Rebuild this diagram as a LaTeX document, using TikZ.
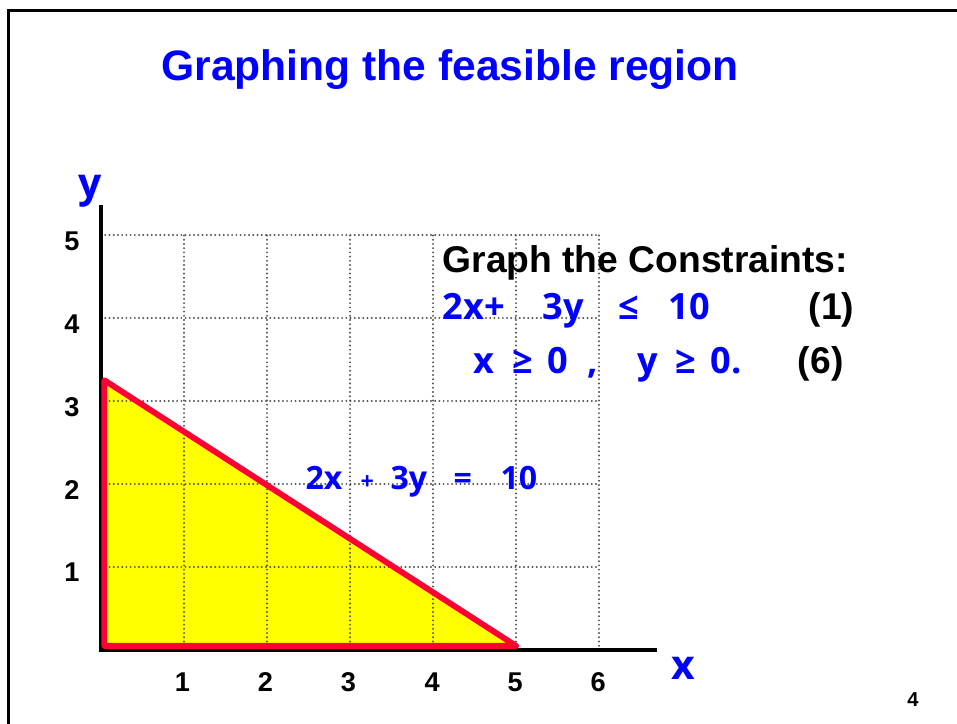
\documentclass[tikz,border=0pt]{standalone}
\usepackage{fontspec}
\setmainfont{Liberation Sans}
\newfontfamily\comicfont{Open Sans}
\definecolor{titleblue}{RGB}{0,0,255}
\definecolor{linered}{RGB}{255,0,51}
\definecolor{regionyellow}{RGB}{255,255,0}
\definecolor{gridgray}{RGB}{85,85,85}
\tikzset{
  ticklabel/.style={font=\fontsize{9.3}{10}\selectfont\bfseries},
  mathblue/.style={anchor=base west, text=titleblue, inner sep=0pt, font=\comicfont\bfseries\fontsize{12.4}{14}\selectfont},
  linelabel/.style={anchor=base west, text=titleblue, inner sep=0pt, font=\comicfont\bfseries\fontsize{11}{13}\selectfont},
  gridline/.style={gridgray, line width=0.75pt, line cap=round, dash pattern=on 0pt off 1.45pt},
  axis/.style={black, line width=1.4pt},
  boundary/.style={linered, line width=2pt, line join=round}
}
\begin{document}
\begin{tikzpicture}
    \useasboundingbox (-1.217,-0.880) rectangle (10.313,7.831);
    \draw[line width=1pt] (-1.12,-0.95) -- (-1.12,7.71) -- (10.4,7.71);

    \node[anchor=base west, inner sep=0pt, text=titleblue, font=\fontsize{14.6}{16}\selectfont\bfseries] (title) at (0.72,6.867) {Graphing the feasible region};

    \coordinate (O) at (0,0);
    \coordinate (Ytop) at (0,5.36);
    \coordinate (Xend) at (6.70,0);
    \coordinate (A) at (0.04,0.05);
    \coordinate (B) at (0.04,3.25);
    \coordinate (C) at (5.0,0.05);

    \fill[regionyellow] (A) -- (B) -- (C) -- cycle;
    \draw[gridline] (O) grid (6,5);
    \draw[axis] (Ytop) -- (O) -- (Xend);
    \draw[boundary] (A) -- (B) -- (C) -- cycle;

    \node[ticklabel] (x1) at (0.98,-0.39) {1};
    \node[ticklabel] (x2) at (1.98,-0.39) {2};
    \node[ticklabel] (x3) at (2.98,-0.39) {3};
    \node[ticklabel] (x4) at (3.99,-0.39) {4};
    \node[ticklabel] (x5) at (4.99,-0.39) {5};
    \node[ticklabel] (x6) at (5.99,-0.39) {6};
    \node[ticklabel] (y1) at (-0.35,0.94) {1};
    \node[ticklabel] (y2) at (-0.35,1.93) {2};
    \node[ticklabel] (y3) at (-0.35,2.93) {3};
    \node[ticklabel] (y4) at (-0.35,3.92) {4};
    \node[ticklabel] (y5) at (-0.35,4.92) {5};

    \node[anchor=base, text=titleblue, font=\comicfont\bfseries\fontsize{14}{16}\selectfont] (ylab) at (-0.13,5.45) {y};
    \node[anchor=base, text=titleblue, font=\comicfont\bfseries\fontsize{14}{16}\selectfont] (xlab) at (7.02,-0.361) {x};

    % constraints
    \node[anchor=base west, inner sep=0pt, font=\fontsize{12.76}{14}\selectfont\bfseries] (head) at (4.108,4.554) {Graph the Constraints:};
    \node[mathblue] (c1a) at (4.108,3.976) {2x+};
    \node[mathblue] (c1b) at (5.313,3.976) {3y};
    \node[mathblue] (c1c) at (6.229,3.976) {≤};
    \node[mathblue] (c1d) at (6.831,3.976) {10};
    \node[anchor=base west, inner sep=0pt, font=\fontsize{12.76}{14}\selectfont\bfseries] (n1) at (8.52,3.976) {(1)};
    \node[mathblue] (c2a) at (4.482,3.337) {x};
    \node[mathblue] (c2b) at (4.952,3.337) {≥};
    \node[mathblue] (c2c) at (5.373,3.337) {0};
    \node[mathblue] (c2d) at (5.855,3.337) {,};
    \node[mathblue] (c2e) at (6.458,3.337) {y};
    \node[mathblue] (c2f) at (6.916,3.337) {≥};
    \node[mathblue] (c2g) at (7.337,3.337) {0.};
    \node[anchor=base west, inner sep=0pt, font=\fontsize{12.76}{14}\selectfont\bfseries] (n6) at (8.39,3.337) {(6)};

    \node[linelabel] (l1) at (2.458,1.928) {2x};
    \node[linelabel, font=\comicfont\bfseries\fontsize{8}{9}\selectfont] (l2) at (3.12,1.928) {+};
    \node[linelabel] (l3) at (3.482,1.928) {3y};
    \node[linelabel] (l4) at (4.241,1.928) {=};
    \node[linelabel] (l5) at (4.807,1.928) {10};

    \node[anchor=base, font=\fontsize{6.9}{8}\selectfont\bfseries] (page) at (9.783,-0.675) {4};
\end{tikzpicture}
\end{document}
